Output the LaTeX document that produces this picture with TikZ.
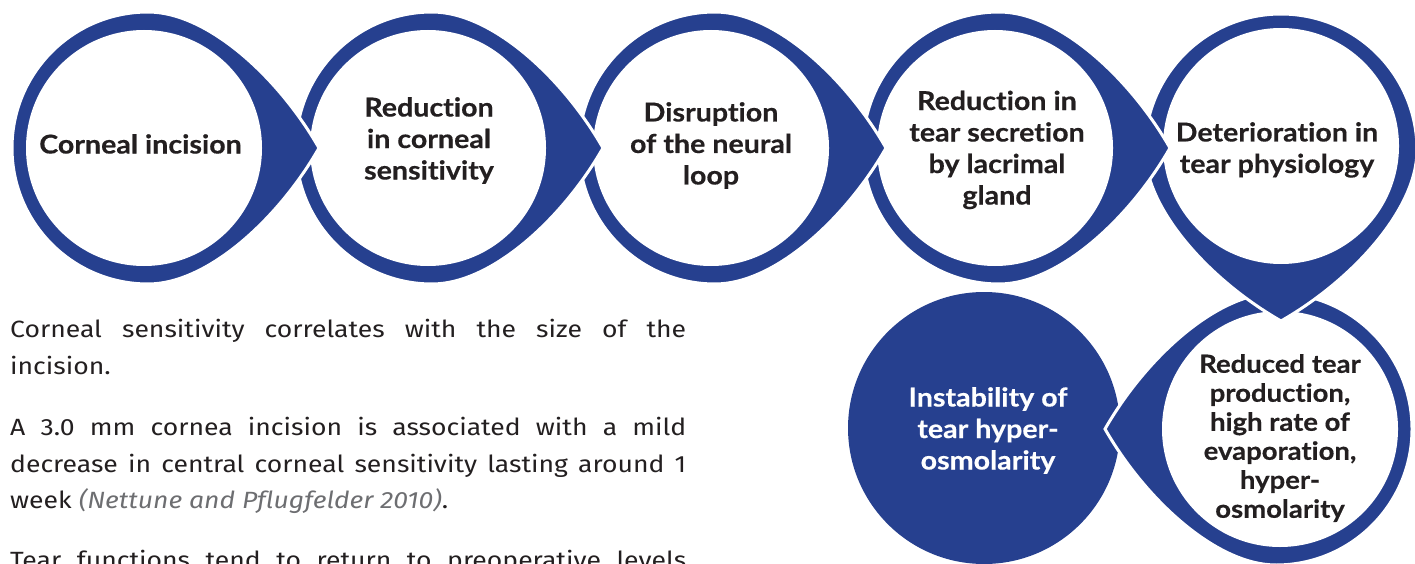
\documentclass[tikz,border=0pt]{standalone}
\usepackage{fontspec}
\setmainfont{Lato}
\newfontfamily\circfont[FakeStretch=1.1, FakeBold=0.4, Ligatures=NoCommon]{Lato}
\newfontfamily\bodyfont[FakeStretch=1.13, Ligatures=NoCommon]{Fira Sans}
\definecolor{dblue}{RGB}{38,64,143}
\definecolor{ink}{RGB}{35,31,32}
\definecolor{citegray}{RGB}{109,110,113}
\tikzset{
  dropshape/.style={fill=dblue, draw=white, line width=3pt},
  fulldisc/.style={fill=dblue},
  circtext/.style={font=\circfont\bfseries\fontsize{26}{31.5}\selectfont, text=ink, align=center, inner sep=0pt, anchor=north},
  smalltext/.style={font=\circfont\bfseries\fontsize{25}{29}\selectfont},
  bodyline/.style={font=\bodyfont\fontsize{23.5}{37}\selectfont, text=ink, inner sep=0pt, anchor=base west},
  teardrop/.pic={
    \path[dropshape] (4pt,136pt) arc[start angle=90, end angle=270, radius=136pt]
      .. controls (64pt,-136pt) and (135pt,-70pt) .. (175pt,0pt)
      .. controls (135pt,70pt) and (64pt,136pt) .. cycle;
    \fill[white] (0,0) circle[radius=118pt];
  }
}
\begin{document}
\begin{tikzpicture}[x=1pt,y=1pt]
\useasboundingbox (0,0) rectangle (1415,-564);
\clip (0,0) rectangle (1415,-564);
% bottom-left filled disc
\path[fulldisc] (984,-428) circle[radius=136pt];
% drops, drawn from last to first
\pic[rotate=180] at (1280,-429) {teardrop};
\pic[rotate=-90] at (1281,-146) {teardrop};
\pic at (995,-148) {teardrop};
\pic at (711,-148) {teardrop};
\pic at (428,-148) {teardrop};
\pic at (144,-148) {teardrop};
% texts in circles
\node[circtext] (c1) at (140.5,-134) {Corneal incision};
\node[circtext] (c2) at (429,-97) {Reduction\\in corneal\\sensitivity};
\node[circtext] (c3) at (711,-102) {Disruption\\of the neural\\loop};
\node[circtext] (c4) at (997,-90.5) {Reduction in\\tear secretion\\by lacrimal\\gland};
\node[circtext] (c5) at (1277,-122) {Deterioration in\\tear physiology};
\node[circtext, smalltext] (c6) at (1280,-354) {Reduced tear\\production,\\high rate of\\evaporation,\\hyper-\\osmolarity};
\node[circtext, text=white] (c7) at (988,-387) {Instability of\\tear hyper-\\osmolarity};
% body text
\node[bodyline] (p1a) at (10,-337) {\makebox[676pt][s]{Corneal sensitivity correlates with the size of the}};
\node[bodyline] (p1b) at (10,-374) {incision.};
\node[bodyline] (p2a) at (10,-435) {\makebox[676pt][s]{A 3.0 mm cornea incision is associated with a mild}};
\node[bodyline] (p2b) at (10,-472) {\makebox[676pt][s]{decrease in central corneal sensitivity lasting around 1}};
\node[bodyline] (p2c) at (10,-508) {week {\itshape\color{citegray}(Nettune and Pflugfelder 2010)}.};
\node[bodyline] (p3a) at (10,-568) {\makebox[676pt][s]{Tear functions tend to return to preoperative levels}};
\end{tikzpicture}
\end{document}
